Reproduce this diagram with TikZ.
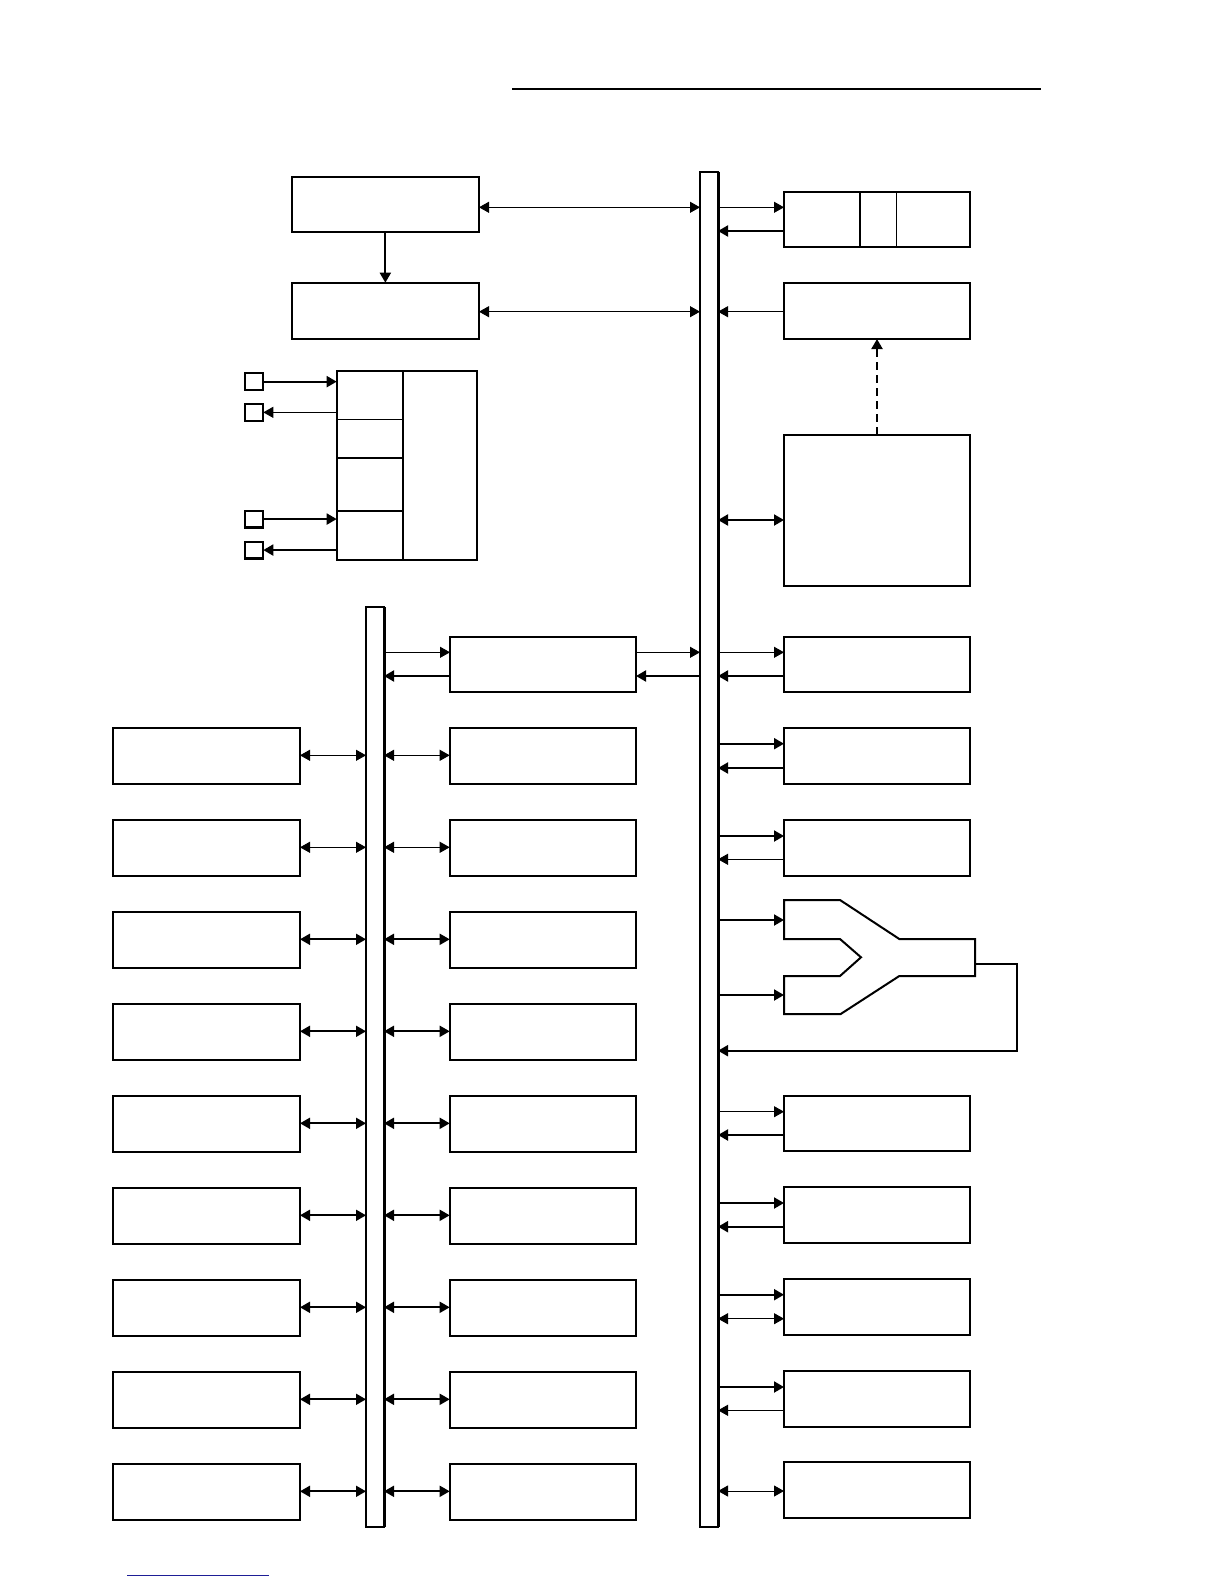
\documentclass[tikz,border=0pt]{standalone}
\usetikzlibrary{arrows.meta}
\newcommand\bx[5]{\node[box, minimum width=#4pt, minimum height=#5pt] (#1) at (#2,#3) {};}
\begin{document}
\begin{tikzpicture}[x=1pt,y=-1pt,
  >={Triangle[length=10pt,width=11pt]},
  box/.style={draw, line width=2.2pt, inner sep=0pt, outer sep=0pt, anchor=north west},
  busbar/.style={draw, line width=1.8pt, inner sep=0pt, outer sep=0pt, anchor=north west, minimum width=18pt},
  tw/.style={line width=1pt},
  tk/.style={line width=2pt}]
\useasboundingbox (0,0) rectangle (1224,1584);
% decorative rules
\draw[line width=2pt] (512,89) -- (1041,89);
\draw[line width=1pt, color={rgb,255:red,30;green,30;blue,150}] (127,1575) -- (269,1575);
% buses
\node[busbar, minimum height=919.3pt] (lbus) at (366,607.3) {};
\draw[line width=3pt] (lbus.north east) -- (lbus.south east);
\node[busbar, minimum height=1355pt] (rbus) at (700,171.7) {};
\draw[line width=3pt] (rbus.north east) -- (rbus.south east);
% top-left boxes
\bx{T1}{291.7}{176.7}{187.3}{55.6}
\bx{T2}{291.7}{282.7}{187.3}{56.3}
\draw[tk,->] (T1.south) -- (T2.north);
\draw[tw,<->] (T1.east |- 0,207.3) -- (rbus.west |- 0,207.3);
\draw[tw,<->] (T2.east |- 0,311.7) -- (rbus.west |- 0,311.7);
% register block
\bx{R}{336.7}{370.7}{140}{189.3}
\draw[line width=2pt] (402.7,370.7) -- (402.7,560);
\draw[line width=1pt] (R.west |- 0,419.3) -- (402.7,419.3);
\draw[line width=2pt] (R.west |- 0,458.3) -- (402.7,458.3);
\draw[line width=2pt] (R.west |- 0,510.7) -- (402.7,510.7);
\bx{s1}{245}{373.3}{18.3}{16.7}
\bx{s2}{245}{404}{18.3}{16.7}
\bx{s3}{245}{510.7}{18.3}{16.7}
\bx{s4}{245}{541.7}{18.3}{16.7}
\draw[tk,->] (s1.east) -- (R.west |- s1.east);
\draw[tw,->] (R.west |- s2.east) -- (s2.east);
\draw[tk,->] (s3.east) -- (R.west |- s3.east);
\draw[tk,->] (R.west |- s4.east) -- (s4.east);
% right top boxes
\bx{A}{784}{192}{186}{54.7}
\draw[line width=2.2pt] (860,192) -- (860,246.7);
\draw[line width=1.2pt] (896.7,192) -- (896.7,246.7);
\draw[tw,->] (rbus.east |- 0,207.3) -- (A.west |- 0,207.3);
\draw[tk,->] (A.west |- 0,231) -- (rbus.east |- 0,231);
\bx{B}{784}{283.3}{186}{55.7}
\draw[tw,->] (B.west |- 0,311.7) -- (rbus.east |- 0,311.7);
\bx{P}{784}{434.7}{186}{151}
\draw[tk,dashed,dash pattern=on 8pt off 5pt,->] (P.north) -- (B.south);
\draw[tk,<->] (rbus.east |- 0,520) -- (P.west |- 0,520);
% C and D
\bx{C}{450}{636.7}{186}{55}
\bx{D}{784}{636.7}{186}{55}
\draw[tw,->] (lbus.east |- 0,652.3) -- (C.west |- 0,652.3);
\draw[tk,->] (C.west |- 0,676) -- (lbus.east |- 0,676);
\draw[tw,->] (C.east |- 0,652.3) -- (rbus.west |- 0,652.3);
\draw[tk,->] (rbus.west |- 0,676) -- (C.east |- 0,676);
\draw[tw,->] (rbus.east |- 0,652.3) -- (D.west |- 0,652.3);
\draw[tk,->] (D.west |- 0,676) -- (rbus.east |- 0,676);
% left and middle rows
\foreach \k in {0,...,8} {
  \pgfmathsetmacro\yt{727.7+92*\k}
  \pgfmathsetmacro\ym{\yt+27.6}
  \pgfmathsetmacro\lw{ifthenelse(\k<2,1,1.7)}
  \bx{L\k}{113.3}{\yt}{186.7}{56.3}
  \bx{M\k}{449.7}{\yt}{186.3}{56.3}
  \draw[line width=\lw pt,<->] (L\k.east |- 0,\ym) -- (lbus.west |- 0,\ym);
  \draw[line width=\lw pt,<->] (lbus.east |- 0,\ym) -- (M\k.west |- 0,\ym);
}
% right rows
\bx{E}{784}{727.7}{186}{56.3}
\draw[tk,->] (rbus.east |- 0,743.7) -- (E.west |- 0,743.7);
\draw[tk,->] (E.west |- 0,768) -- (rbus.east |- 0,768);
\bx{F}{784}{819.7}{186}{56.3}
\draw[tk,->] (rbus.east |- 0,836) -- (F.west |- 0,836);
\draw[tw,->] (F.west |- 0,859.3) -- (rbus.east |- 0,859.3);
% Y-shaped merger
\draw[line width=2pt] (784,900) -- (840,900) -- (899.3,939) -- (975,939) -- (975,976) -- (899.3,976)
  -- (840.7,1014) -- (784,1014) -- (784,976) -- (840,976) -- (861,957.3) -- (840,939) -- (784,939) -- cycle;
\coordinate (yin1) at (784,920);
\coordinate (yin2) at (784,995);
\coordinate (yout) at (975,964);
\coordinate (fb) at (1016.7,1050.7);
\draw[tk,->] (rbus.east |- yin1) -- (yin1);
\draw[tk,->] (rbus.east |- yin2) -- (yin2);
\draw[tk,->] (yout) -| (fb) -- (rbus.east |- fb);
\bx{G}{784}{1095.7}{186}{55.3}
\draw[tw,->] (rbus.east |- 0,1111.7) -- (G.west |- 0,1111.7);
\draw[tk,->] (G.west |- 0,1135) -- (rbus.east |- 0,1135);
\bx{H}{784}{1187.3}{186}{55.5}
\draw[tk,->] (rbus.east |- 0,1203) -- (H.west |- 0,1203);
\draw[tk,->] (H.west |- 0,1226.7) -- (rbus.east |- 0,1226.7);
\bx{I}{784}{1279}{186}{56}
\draw[tk,->] (rbus.east |- 0,1294.7) -- (I.west |- 0,1294.7);
\draw[tw,<->] (rbus.east |- 0,1318.7) -- (I.west |- 0,1318.7);
\bx{J}{784}{1371}{186}{55.7}
\draw[tk,->] (rbus.east |- 0,1387) -- (J.west |- 0,1387);
\draw[tw,->] (J.west |- 0,1410.3) -- (rbus.east |- 0,1410.3);
\bx{K}{784}{1462.3}{186}{56}
\draw[tw,<->] (rbus.east |- 0,1491) -- (K.west |- 0,1491);
\end{tikzpicture}
\end{document}
